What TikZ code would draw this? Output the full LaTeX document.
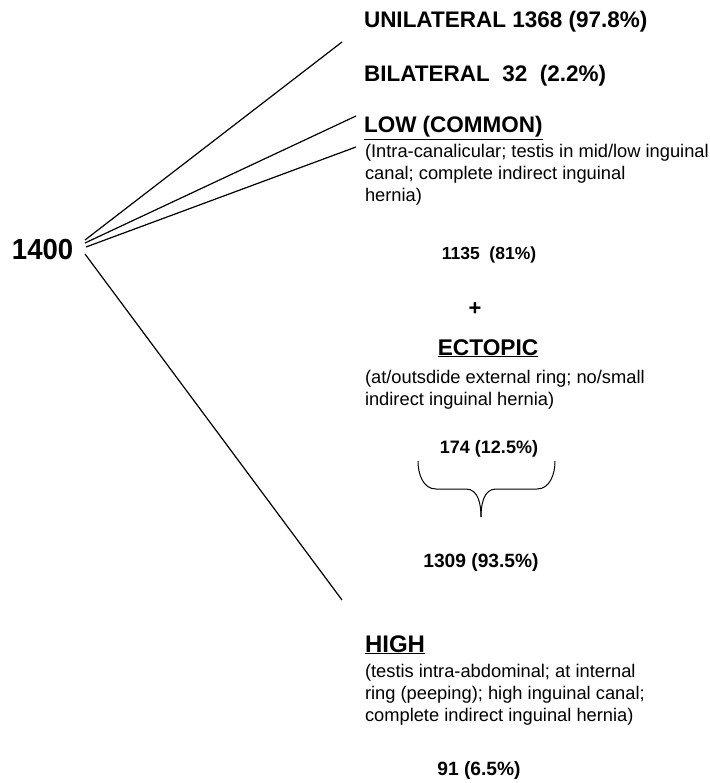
\documentclass[tikz,border=0pt]{standalone}
\usepackage{fontspec}
\setmainfont{Liberation Sans}
\newfontfamily\cond[FakeStretch=0.95]{Liberation Sans}
\begin{document}
\begin{tikzpicture}[x=1pt,y=-1pt,
  every node/.style={inner sep=0pt,outer sep=0pt,anchor=base west},
  big/.style={font=\bfseries\fontsize{22.5}{26}\selectfont},
  desc/.style={font=\fontsize{18.3}{22}\selectfont,align=left},
  num/.style={anchor=base},
  conn/.style={line width=1.2pt}]
\useasboundingbox (0,0) rectangle (709,783);
\node[font=\cond\bfseries\fontsize{29}{34}\selectfont] (root) at (12,259) {1400};
\coordinate (s1) at (85,240);
\coordinate (s2) at (85,243);
\coordinate (s3) at (86,247);
\coordinate (s4) at (85,254);
\coordinate (e1) at (342,42);
\coordinate (e2) at (356,116);
\coordinate (e3) at (356,147);
\coordinate (e4) at (342,600);
\draw[conn] (s1) -- (e1);
\draw[conn] (s2) -- (e2);
\draw[conn] (s3) -- (e3);
\draw[conn] (s4) -- (e4);
\node[big] (uni) at (364,28) {UNILATERAL 1368 (97.8\%)};
\node[big] (bil) at (364,82) {BILATERAL\ \ 32\ \ (2.2\%)};
\node[big] (low) at (364,133) {\underline{LOW (COMMON)}};
\node[desc] (lowd) at (365,202) {(Intra-canalicular; testis in mid/low inguinal\\canal; complete indirect inguinal\\hernia)};
\node[num,font=\bfseries\fontsize{17.5}{20}\selectfont] (n1135) at (489,259) {1135\ \ (81\%)};
\node[font=\bfseries\fontsize{22}{24}\selectfont,anchor=center] (plus) at (475,309) {+};
\node[font=\bfseries\fontsize{22.7}{26}\selectfont,anchor=base] (ect) at (488,355) {\underline{ECTOPIC}};
\node[desc] (ectd) at (365,405) {(at/outsdide external ring; no/small\\indirect inguinal hernia)};
\node[num,font=\bfseries\fontsize{18}{20}\selectfont] (n174) at (489,453) {174 (12.5\%)};
\coordinate (bl) at (418,461);
\coordinate (br) at (555,461);
\coordinate (bt) at (481,517);
\draw[line width=1pt] (bl) to[out=-90,in=180] (436,489) -- (466,489) to[out=0,in=90] (bt);
\draw[line width=1pt] (br) to[out=-90,in=0] (537,489) -- (496,489) to[out=180,in=90] (bt);
\node[num,font=\bfseries\fontsize{19.2}{22}\selectfont] (n1309) at (481,567) {1309 (93.5\%)};
\node[font=\bfseries\fontsize{24}{28}\selectfont] (high) at (365,652) {\underline{HIGH}};
\node[desc] (highd) at (365,721) {(testis intra-abdominal; at internal\\ring (peeping); high inguinal canal;\\complete indirect inguinal hernia)};
\node[num,font=\bfseries\fontsize{19.2}{22}\selectfont] (n91) at (479,775) {91 (6.5\%)};
\end{tikzpicture}
\end{document}
